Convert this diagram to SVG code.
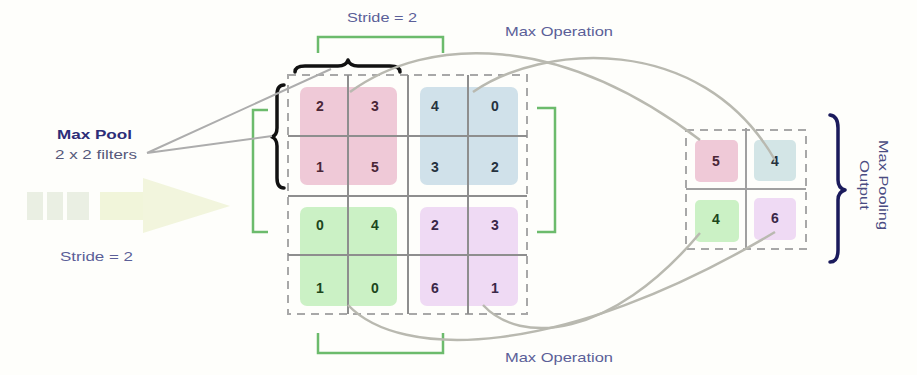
<svg xmlns="http://www.w3.org/2000/svg" width="917" height="375" viewBox="0 0 917 375">
<style>
.lbl{font-family:"Liberation Sans",Arial,sans-serif;font-size:13px;fill:#5b5f98}
.num{font-family:"Liberation Sans",Arial,sans-serif;font-size:14px;font-weight:bold;text-anchor:middle}
.grid{stroke:#8e8e8e;stroke-width:2;fill:none}
.dash{stroke:#a8a8a8;stroke-width:2;fill:none;stroke-dasharray:8 6}
.gb{stroke:#6cbb6c;stroke-width:2.5;fill:none}
.brace{stroke:#111;stroke-width:3.5;fill:none;stroke-linecap:round;stroke-linejoin:round}
.curve{stroke:#b9b9b0;stroke-width:2.5;fill:none}
.pink{fill:#efc9d7}.blue{fill:#d0e1ea}.green{fill:#cbf1c5}.purple{fill:#efdaf4}
.np{fill:#4a2636}.nb{fill:#26323e}.ng{fill:#1c461c}.nv{fill:#3a2848}
</style>
<rect width="917" height="375" fill="#fefefb"/>

<g id="arrow" opacity="0.75">
<rect x="27" y="192" width="16" height="28" fill="#e4eadb"/>
<rect x="47" y="192" width="16" height="28" fill="#e4eadb"/>
<rect x="67" y="192" width="22" height="28" fill="#e4eadb"/>
<rect x="100" y="192" width="45" height="28" fill="#edf2cf"/>
<polygon points="143,178 230,206 143,233" fill="#eef3d3"/>
</g>

<g id="label-maxpool">
<text class="lbl" x="57" y="139" style="font-weight:bold;fill:#2c2d78" textLength="75" lengthAdjust="spacingAndGlyphs">Max Pool</text>
<text class="lbl" x="55" y="159" style="fill:#56587a" textLength="82" lengthAdjust="spacingAndGlyphs">2 x 2 filters</text>
</g>
<g id="label-stride-left"><text class="lbl" x="60" y="261" textLength="73" lengthAdjust="spacingAndGlyphs">Stride = 2</text></g>
<g id="label-stride-top"><text class="lbl" x="347" y="22" textLength="70" lengthAdjust="spacingAndGlyphs">Stride = 2</text></g>
<g id="label-maxop-top"><text class="lbl" x="505" y="36" textLength="108" lengthAdjust="spacingAndGlyphs">Max Operation</text></g>
<g id="label-maxop-bottom"><text class="lbl" x="505" y="362" textLength="108" lengthAdjust="spacingAndGlyphs">Max Operation</text></g>
<g id="label-output" transform="translate(879,185) rotate(90)">
<text class="lbl" x="0" y="0" text-anchor="middle" style="fill:#4a4c82" textLength="90" lengthAdjust="spacingAndGlyphs">Max Pooling</text>
<text class="lbl" x="0" y="19" text-anchor="middle" style="fill:#4a4c82" textLength="50" lengthAdjust="spacingAndGlyphs">Output</text>
</g>

<g id="brackets">
<path class="gb" d="M318,53 V37 H443 V53"/>
<path class="gb" d="M318,333 V353 H443 V333"/>
<path class="gb" d="M268,110 H253 V232 H268"/>
<path class="gb" d="M537,108 H555 V232 H537"/>
<path class="brace" d="M295,72 Q295,66 305,66 L338,66 Q346,66 348,60 Q350,66 358,66 L390,66 Q400,66 400,72"/>
<path class="brace" d="M284,85 Q277,85 277,95 L277,128 Q277,135 272,137 Q277,139 277,146 L277,178 Q277,188 284,188"/>
<path class="brace" style="stroke:#1b1b5c" d="M830,115 Q838,116 838,128 L838,180 Q838,188 845,190 Q838,192 838,200 L838,250 Q838,262 830,262"/>
</g>

<g id="input-pink">
<rect class="pink" x="300" y="87" width="97" height="98" rx="7"/>
<text class="num np" x="320" y="111">2</text><text class="num np" x="375" y="111">3</text>
<text class="num np" x="320" y="172">1</text><text class="num np" x="375" y="172">5</text>
</g>
<g id="input-blue">
<rect class="blue" x="420" y="87" width="98" height="98" rx="7"/>
<text class="num nb" x="435" y="111">4</text><text class="num nb" x="495" y="111">0</text>
<text class="num nb" x="435" y="172">3</text><text class="num nb" x="495" y="172">2</text>
</g>
<g id="input-green">
<rect class="green" x="300" y="207" width="97" height="99" rx="7"/>
<text class="num ng" x="320" y="230">0</text><text class="num ng" x="375" y="230">4</text>
<text class="num ng" x="320" y="293">1</text><text class="num ng" x="375" y="293">0</text>
</g>
<g id="input-purple">
<rect class="purple" x="420" y="207" width="98" height="99" rx="7"/>
<text class="num nv" x="435" y="230">2</text><text class="num nv" x="495" y="230">3</text>
<text class="num nv" x="435" y="293">6</text><text class="num nv" x="495" y="293">1</text>
</g>
<g id="input-grid">
<rect class="dash" x="288" y="75" width="239" height="239"/>
<path class="grid" d="M348,75 V314 M408,75 V314 M468,75 V314 M288,136 H527 M288,196 H527 M288,255 H527"/>
</g>

<g id="output-5"><rect class="pink" x="695" y="140" width="43" height="42" rx="5"/><text class="num np" x="716" y="166">5</text></g>
<g id="output-4a"><rect class="blue" style="fill:#d3e5e6" x="754" y="140" width="42" height="41" rx="5"/><text class="num nb" x="775" y="166">4</text></g>
<g id="output-4b"><rect class="green" x="695" y="200" width="44" height="42" rx="5"/><text class="num ng" x="716" y="224">4</text></g>
<g id="output-6"><rect class="purple" x="754" y="198" width="42" height="42" rx="5"/><text class="num nv" x="775" y="223">6</text></g>
<g id="output-grid">
<rect class="dash" x="686" y="130" width="120" height="119"/>
<path class="grid" style="stroke:#a0a0a0" d="M746,128 V249 M686,189 H806"/>
</g>

<g id="connectors">
<path class="curve" style="stroke:#adadad;stroke-width:2" d="M147,153 L331,69 M147,153 L272,136"/>
<path class="curve" d="M350,92 C430,34 560,34 700,140"/>
<path class="curve" d="M473,92 C540,45 700,30 775,160"/>
<path class="curve" d="M483,305 C520,345 610,340 700,233"/>
<path class="curve" d="M348,305 C400,360 560,360 775,232"/>
</g>
</svg>
